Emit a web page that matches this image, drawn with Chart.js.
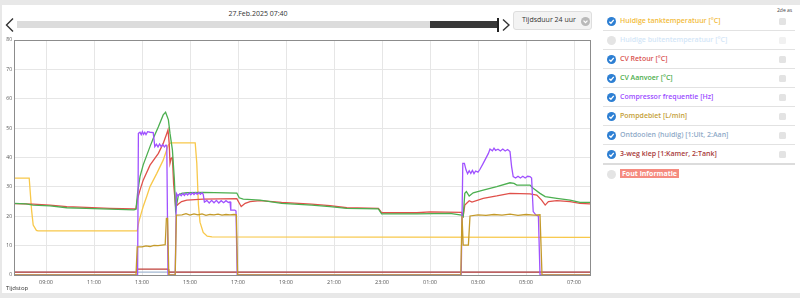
<!DOCTYPE html>
<html>
<head>
<meta charset="utf-8">
<script src="https://cdn.jsdelivr.net/npm/chart.js@4.4.1/dist/chart.umd.min.js"></script>
<style>
  html, body { margin: 0; padding: 0; }
  body { width: 800px; height: 298px; background: #e8e8e8; font-family: "Open Sans", sans-serif; position: relative; overflow: hidden; }
  #panel { position: absolute; left: 2px; top: 5px; width: 798px; height: 288px; background: #fff; }
  #datum { position: absolute; left: 208px; width: 100px; top: 9px; text-align: center; font-size: 7px; color: #333; }
  #bar { position: absolute; left: 17px; top: 21px; width: 413px; height: 7px; background: #dcdcdc; }
  #barDark { position: absolute; left: 430px; top: 21px; width: 67px; height: 7px; background: #393939; }
  #handle { position: absolute; left: 497px; top: 18px; width: 2px; height: 14px; background: #222; }
  #dropdown { position: absolute; left: 513px; top: 11px; width: 79px; height: 19px; background: #f3f3f3; border: 1px solid #dedede; border-radius: 3px; box-sizing: border-box; }
  #dropdown span { position: absolute; left: 8px; top: 3px; font-size: 7px; color: #333; }
  #dropdown svg { position: absolute; left: 67px; top: 5px; display: block; }
  #chartBox { position: absolute; left: 0; top: 34px; width: 598px; height: 259px; }
  #tijdstop { position: absolute; left: 6px; top: 284px; font-size: 6px; color: #333; }
  #legend { position: absolute; left: 600px; top: 12px; width: 195px; }
  .row { position: relative; height: 18px; }
  .row .ic { position: absolute; left: 7px; top: 5px; line-height: 0; }
  .row .ic svg { display: block; }
  .row .tx { position: absolute; left: 20px; top: 4px; font-size: 7px; line-height: 10px; font-weight: 600; white-space: nowrap; }
  .row .cb { position: absolute; left: 179px; top: 6px; width: 7px; height: 7px; border-radius: 1.5px; background: #e3e3e3; }
  .sep { height: 0; border-top: 1px solid #e2e2e2; margin-left: 3px; }
  .sep.dik { border-top: 2px solid #dcdcdc; }
  #as2 { position: absolute; left: 777px; top: 7px; font-size: 5px; color: #444; }
  .fout { background: #f58b80; color: #fff; padding: 0 2px; font-weight: 700; }
</style>
</head>
<body>
<div id="panel"></div>
<div id="datum">27.Feb.2025 07:40</div>
<svg style="position:absolute;left:0;top:0" width="20" height="40"><polyline points="13,18.5 6.5,25 13,31.5" fill="none" stroke="#333" stroke-width="1.4"/></svg>
<div id="bar"></div>
<div id="barDark"></div>
<div id="handle"></div>
<svg style="position:absolute;left:500px;top:0" width="12" height="40"><polyline points="3,19.5 9,25 3,30.5" fill="none" stroke="#333" stroke-width="1.4"/></svg>
<div id="dropdown"><span>Tijdsduur 24 uur</span>
  <svg width="9" height="9" viewBox="0 0 16 16"><circle cx="8" cy="8" r="8" fill="#b9b9b9"/><polyline points="4.5,6.5 8,10 11.5,6.5" fill="none" stroke="#fff" stroke-width="2.2"/></svg>
</div>
<div id="chartBox"><canvas id="myLineChart"></canvas></div>
<div id="tijdstop">Tijdstop</div>
<div id="as2">2de as</div>
<div id="legend"></div>

<script>
// time in minutes after 26 Feb 07:40
var tickMinutes = [80, 200, 320, 440, 560, 680, 800, 920, 1040, 1160, 1280, 1400];
var tickLabels = ['09:00', '11:00', '13:00', '15:00', '17:00', '19:00', '21:00', '23:00', '01:00', '03:00', '05:00', '07:00'];

var tankTemp = [[0,33],[38,33],[44,22],[48,17],[56,15.2],[60,15],[308,15],[312,18.1],[318,21],[323,23.3],[332,26.8],[340,30.1],[357,34.6],[373,39.1],[386,44.3],[392,45],[453,45],[457,38],[461,24],[465,18],[473,14.5],[483,13.2],[495,13],[1440,12.8]];
var cvRetour = [[0,24.3],[48,24.1],[90,23.8],[132,23.3],[180,23.0],[240,22.7],[300,22.5],[305,22.6],[309,26],[315,28.9],[323,32.3],[340,37.4],[361,41.4],[373,44.8],[382,48.2],[385,49.4],[388,44.8],[390,38],[393,39.7],[396,40],[399,31.2],[404,23.3],[411,24.2],[419,25.0],[432,25.5],[473,25.8],[557,26.0],[563,24.5],[568,23.3],[578,24.4],[590,25.0],[615,25.3],[669,24.7],[744,24.1],[790,23.6],[832,22.9],[911,22.7],[919,21.2],[1007,21.2],[1040,21.5],[1119,21.3],[1123,20.1],[1127,23.8],[1138,25.3],[1145,24.8],[1173,26.1],[1207,26.9],[1240,27.8],[1290,27.6],[1307,27.2],[1319,25.5],[1328,23.8],[1336,25.0],[1357,25.3],[1390,25.0],[1415,24.4],[1440,24.2]];
var cvAanvoer = [[0,24.4],[30,24.2],[48,23.8],[90,23.5],[132,22.9],[180,22.7],[240,22.4],[300,22.2],[305,22.4],[309,28],[315,33.5],[323,37.5],[340,43.7],[348,46.5],[361,50.5],[373,54.5],[379,55.4],[386,52.8],[390,48.2],[396,42.6],[401,32.3],[404,22],[411,27.2],[419,27.8],[432,28.0],[473,28.1],[557,27.9],[563,26.3],[573,25.8],[615,25.5],[669,24.4],[744,23.8],[790,23.3],[832,22.7],[911,22.5],[919,20.8],[1007,20.8],[1090,21.0],[1119,20.4],[1123,19.9],[1127,27.8],[1131,28.4],[1138,26.9],[1148,28.0],[1173,28.9],[1207,30.1],[1240,31.4],[1250,31.2],[1257,30.6],[1290,30.6],[1298,29.5],[1315,27.8],[1328,26.7],[1357,26.1],[1390,25.5],[1415,24.7],[1440,24.7]];
var compressor = [[0,0],[309,0],[311,48.2],[315,48.6],[318,47.8],[321,48.8],[324,47.9],[327,48.6],[330,47.8],[334,48.8],[340,48.6],[348,48.5],[352,43.7],[356,44.5],[360,43.6],[364,44.6],[368,43.7],[372,44.4],[376,43.6],[380,44.2],[382,43.8],[385,0],[403,0],[406,27.8],[410,26.9],[414,27.6],[418,27.0],[422,27.7],[426,27.1],[430,27.8],[434,27.2],[438,27.9],[442,27.3],[446,28.0],[450,27.4],[454,28.0],[458,27.5],[462,28.1],[466,27.5],[470,28.0],[473,27.5],[476,24.8],[482,25.4],[488,24.5],[494,25.4],[500,24.6],[506,25.4],[512,24.5],[518,25.3],[524,24.6],[530,25.3],[536,24.7],[540,24.9],[542,22.1],[552,22.1],[555,21.8],[558,0],[1118,0],[1122,38.0],[1126,38.0],[1130,35.8],[1134,34.5],[1138,35.5],[1142,34.6],[1146,35.6],[1150,34.5],[1154,35.4],[1160,35.0],[1165,36],[1173,38],[1186,41.4],[1190,42.9],[1196,42.3],[1200,43.2],[1204,42.4],[1210,42.8],[1216,42.2],[1222,42.9],[1228,42.2],[1234,42.7],[1240,42],[1244,36.9],[1248,33.5],[1254,33.0],[1260,33.6],[1266,33.0],[1272,33.6],[1278,33.0],[1284,33.6],[1290,33.5],[1294,33],[1298,21.6],[1305,20.4],[1311,20.0],[1315,0],[1440,0]];
var pompdebiet = [[0,0],[305,0],[308,9.6],[320,9.6],[330,9.9],[340,9.7],[350,10.1],[360,10.0],[370,10.2],[378,10.3],[381,19.3],[384,19.3],[387,0],[403,0],[406,20.4],[420,20.5],[430,20.9],[440,20.4],[450,20.8],[460,20.5],[470,20.8],[480,20.3],[490,20.6],[500,20.5],[510,20.7],[520,20.4],[530,20.6],[540,20.5],[550,20.6],[556,20.5],[559,0],[1117,0],[1120,20.1],[1123,10.2],[1136,10.2],[1140,20.1],[1160,20.5],[1180,20.3],[1200,20.6],[1220,20.4],[1240,20.7],[1260,20.3],[1280,20.6],[1300,20.4],[1315,20.5],[1320,0],[1440,0]];
var ontdooien = [[0,1],[1440,1]];
var driewegKlep = [[0,1],[305,1],[307,2],[385,2],[387,1],[1440,1]];

var legendNames = ['Huidige tanktemperatuur [°C]', 'Huidige buitentemperatuur [°C]', 'CV Retour [°C]', 'CV Aanvoer [°C]', 'Compressor frequentie [Hz]', 'Pompdebiet [L/min]', 'Ontdooien (huidig) [1:Uit, 2:Aan]', '3-weg klep [1:Kamer, 2:Tank]'];
var legendColors = ['#f2bc3c', '#d3e6f7', '#d9534f', '#4cae4c', '#9b4dff', '#c4a038', '#8faac8', '#a83a3a'];
var legendOn = [true, false, true, true, true, true, true, true];

var lineColors = { tank: '#f8c84a', retour: '#e0504a', aanvoer: '#4caf50', comp: '#a052ff', pomp: '#c49a2a', ontdooi: '#a3b8d2', klep: '#c0403a' };

function pts(a) { return a.map(function (p) { return { x: p[0], y: p[1] }; }); }

// legend on the right
var lg = document.getElementById('legend');
var html = '';
var check = '<svg width="9" height="9" viewBox="0 0 16 16"><circle cx="8" cy="8" r="8" fill="#2d7fd3"/><polyline points="4.2,8.3 7,11 12,5.2" fill="none" stroke="#fff" stroke-width="2.3"/></svg>';
var uncheck = '<svg width="9" height="9" viewBox="0 0 16 16"><circle cx="8" cy="8" r="8" fill="#e4e4e4"/></svg>';
for (var i = 0; i < legendNames.length; i++) {
    html += '<div class="row"><span class="ic">' + (legendOn[i] ? check : uncheck) + '</span>' +
        '<span class="tx" style="color:' + legendColors[i] + '">' + legendNames[i] + '</span>' +
        '<span class="cb"' + (legendOn[i] ? '' : ' style="background:#f1f1f1"') + '></span></div>';
    html += '<div class="sep' + (i == legendNames.length - 1 ? ' dik' : '') + '"></div>';
}
html += '<div class="row"><span class="ic">' + uncheck + '</span><span class="tx"><span class="fout">Fout informatie</span></span></div>';
lg.innerHTML = html;

var framePlugin = {
    id: 'frame',
    afterDraw: function (chart) {
        var a = chart.chartArea, c = chart.ctx;
        c.save();
        c.strokeStyle = '#8c8c8c';
        c.lineWidth = 1;
        c.strokeRect(Math.round(a.left) + 0.5, Math.round(a.top) + 0.5, Math.round(a.right - a.left), Math.round(a.bottom - a.top));
        c.restore();
    }
};

function ds(label, data, color, order) {
    return { label: label, data: pts(data), borderColor: color, backgroundColor: color, borderWidth: 1.3, pointRadius: 0, tension: 0, order: order };
}

var ctx = document.getElementById('myLineChart');
var myLineChart = new Chart(ctx, {
    type: 'line',
    data: {
        datasets: [
            ds('Huidige tanktemperatuur', tankTemp, lineColors.tank, 5),
            ds('CV Retour', cvRetour, lineColors.retour, 4),
            ds('CV Aanvoer', cvAanvoer, lineColors.aanvoer, 3),
            ds('Compressor frequentie', compressor, lineColors.comp, 2),
            ds('Pompdebiet', pompdebiet, lineColors.pomp, 1),
            ds('Ontdooien', ontdooien, lineColors.ontdooi, 7),
            ds('3-weg klep', driewegKlep, lineColors.klep, 6)
        ]
    },
    options: {
        responsive: true,
        maintainAspectRatio: false,
        animation: false,
        layout: { padding: { top: 6, right: 8, left: 0, bottom: 0 } },
        plugins: { legend: { display: false }, tooltip: { enabled: false } },
        scales: {
            x: {
                type: 'linear',
                min: 0,
                max: 1440,
                afterFit: function (s) { s.height = 18; },
                afterBuildTicks: function (s) { s.ticks = tickMinutes.map(function (v) { return { value: v }; }); },
                grid: { color: '#e6e6e6', drawTicks: false },
                border: { display: false },
                ticks: {
                    autoSkip: false, maxRotation: 0, padding: 4, color: '#555',
                    font: { family: 'Open Sans', size: 5.5 },
                    callback: function (v) { return tickLabels[tickMinutes.indexOf(v)]; }
                }
            },
            y: {
                min: 0,
                max: 80,
                afterFit: function (s) { s.width = 14; },
                grid: { color: '#e6e6e6', drawTicks: false },
                border: { display: false },
                ticks: { stepSize: 10, padding: 2, color: '#555', font: { family: 'Open Sans', size: 5 } }
            }
        }
    },
    plugins: [framePlugin]
});
</script>
</body>
</html>
